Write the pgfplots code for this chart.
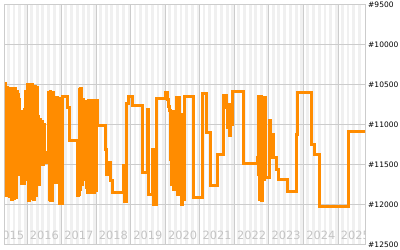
\documentclass[border=0pt]{standalone}
\usepackage{fontspec}
\setmainfont{DejaVu Sans}
\usepackage{pgfplots}
\pgfplotsset{compat=1.18}
\definecolor{gridgray}{HTML}{CCCCCC}
\definecolor{stripe}{HTML}{F0F0F0}
\definecolor{yeargray}{HTML}{C4C4C4}
\definecolor{rankorange}{HTML}{FF8C00}
\begin{document}
\begin{tikzpicture}
\begin{axis}[
  scale only axis, width=360pt, height=240pt,
  xmin=2015.363, xmax=2025.78,
  ymin=9500, ymax=12500, y dir=reverse,
  xtick={2016,2017,2018,2019,2020,2021,2022,2023,2024,2025}, xticklabels={},
  minor xtick={2015.125,2015.291667,...,2025.9},
  ytick={9500,10000,10500,11000,11500,12000,12500},
  yticklabels={\#9500,\#10000,\#10500,\#11000,\#11500,\#12000,\#12500},
  yticklabel pos=right,
  yticklabel style={font=\fontsize{7.5}{8}\selectfont, anchor=west, inner sep=0pt, xshift=3pt},
  major tick length=0pt, minor tick length=0pt,
  xmajorgrids, ymajorgrids, xminorgrids,
  major grid style={gridgray, line width=1pt},
  minor grid style={stripe, line width=2.88pt},
  axis line style={gridgray, line width=1pt},
  clip=true,
]
\addplot[rankorange, line width=3pt, const plot, mark=none] table {
x y
2015.340 10487
2015.378 11887
2015.407 10537
2015.436 11850
2015.465 10550
2015.494 11900
2015.523 10562
2015.552 11937
2015.580 10550
2015.609 11925
2015.638 10550
2015.667 11912
2015.696 10587
2015.711 11562
2015.725 10625
2015.754 11625
2015.783 10687
2015.797 11437
2015.812 10837
2015.841 11737
2015.870 10837
2015.899 11737
2015.928 10812
2015.942 11312
2015.957 10587
2015.986 11687
2016.000 10500
2016.029 11950
2016.058 10512
2016.087 11912
2016.116 10500
2016.145 11925
2016.159 10687
2016.188 11937
2016.217 10525
2016.246 11887
2016.275 10537
2016.289 11562
2016.304 10900
2016.333 11750
2016.362 10937
2016.391 11437
2016.405 10962
2016.434 11500
2016.463 11000
2016.492 11437
2016.521 11350
2016.564 11475
2016.608 10600
2016.637 11937
2016.666 10587
2016.694 11950
2016.723 10600
2016.752 11000
2016.781 10875
2016.810 11725
2016.839 10662
2016.868 11687
2016.897 10675
2016.926 11987
2017.013 10650
2017.172 10787
2017.215 11200
2017.447 11887
2017.476 11312
2017.490 11875
2017.505 10562
2017.534 11812
2017.548 10550
2017.577 11750
2017.592 10687
2017.621 11687
2017.635 10850
2017.664 11625
2017.678 10725
2017.707 11787
2017.722 10712
2017.751 11850
2017.765 10700
2017.794 11850
2017.823 10700
2017.852 11812
2017.881 10700
2017.910 11850
2017.939 10700
2017.968 11825
2017.997 10700
2018.026 11012
2018.257 11312
2018.300 11625
2018.344 11475
2018.402 11700
2018.488 11850
2018.778 11512
2018.807 11962
2018.865 10737
2018.937 10650
2019.038 10762
2019.328 11062
2019.342 11312
2019.356 11600
2019.472 10812
2019.516 11875
2019.617 11312
2019.646 12000
2019.733 10675
2019.993 10600
2020.051 10687
2020.080 10775
2020.109 10825
2020.138 11437
2020.152 10837
2020.181 11750
2020.210 10875
2020.239 11812
2020.268 10837
2020.297 11787
2020.326 10662
2020.355 11875
2020.384 10662
2020.413 11437
2020.442 10875
2020.471 12000
2020.499 10912
2020.528 11937
2020.543 10650
2020.803 11912
2021.064 10612
2021.208 11100
2021.295 11762
2021.498 11375
2021.700 10637
2021.758 10787
2021.787 11037
2021.816 10750
2021.845 11137
2021.874 10812
2021.903 11000
2021.932 10587
2022.250 11487
2022.655 11412
2022.684 11625
2022.698 10650
2022.727 11937
2022.756 10650
2022.785 11950
2022.814 10662
2022.843 11687
2022.872 10662
2022.901 11662
2023.031 10950
2023.060 11162
2023.089 11412
2023.104 11125
2023.133 11412
2023.205 11562
2023.263 11687
2023.523 11837
2023.798 11125
2023.813 10600
2024.218 11250
2024.333 11375
2024.449 12025
2025.317 11087
2025.810 11087
};
\node[text=yeargray, font=\fontsize{11.4}{12}\selectfont] at (axis cs:2015.5,12375) {2015};
\node[text=yeargray, font=\fontsize{11.4}{12}\selectfont] at (axis cs:2016.5,12375) {2016};
\node[text=yeargray, font=\fontsize{11.4}{12}\selectfont] at (axis cs:2017.5,12375) {2017};
\node[text=yeargray, font=\fontsize{11.4}{12}\selectfont] at (axis cs:2018.5,12375) {2018};
\node[text=yeargray, font=\fontsize{11.4}{12}\selectfont] at (axis cs:2019.5,12375) {2019};
\node[text=yeargray, font=\fontsize{11.4}{12}\selectfont] at (axis cs:2020.5,12375) {2020};
\node[text=yeargray, font=\fontsize{11.4}{12}\selectfont] at (axis cs:2021.5,12375) {2021};
\node[text=yeargray, font=\fontsize{11.4}{12}\selectfont] at (axis cs:2022.5,12375) {2022};
\node[text=yeargray, font=\fontsize{11.4}{12}\selectfont] at (axis cs:2023.5,12375) {2023};
\node[text=yeargray, font=\fontsize{11.4}{12}\selectfont] at (axis cs:2024.5,12375) {2024};
\node[text=yeargray, font=\fontsize{11.4}{12}\selectfont] at (axis cs:2025.5,12375) {2025};
\end{axis}
\pgfresetboundingbox
\path ([shift={(-5pt,-5pt)}]current axis.south west) rectangle ([shift={(35pt,5pt)}]current axis.north east);
\end{tikzpicture}
\end{document}
